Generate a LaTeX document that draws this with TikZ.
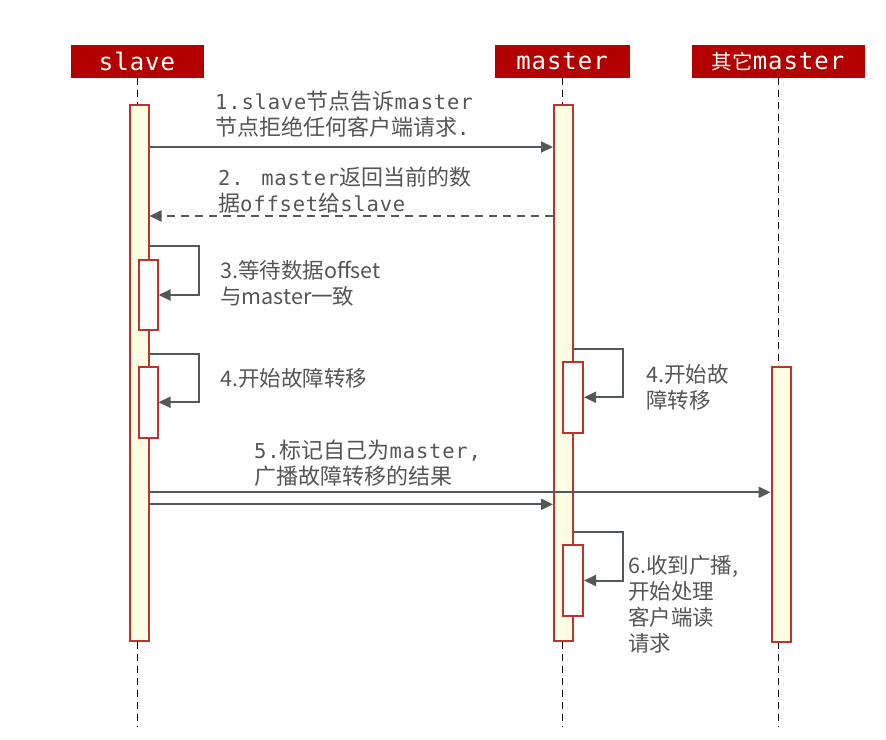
\documentclass[tikz,border=0pt]{standalone}
\usepackage{fontspec}
\usetikzlibrary{arrows.meta,calc}
\newfontfamily\cjk{Noto Sans CJK SC}
\newfontfamily\monofont[LetterSpace=4]{DejaVu Sans Mono}
\definecolor{hdr}{HTML}{B30000}
\definecolor{actred}{HTML}{C0322C}
\definecolor{actfill}{HTML}{FFFFE3}
\definecolor{arr}{HTML}{535959}
\definecolor{txt}{HTML}{555555}
\newcommand{\Mo}[1]{{\fontsize{20.5}{25.5}\selectfont\monofont #1}}
\newcommand{\Cj}[1]{{\fontsize{22}{25.5}\selectfont\cjk #1}}
\newcommand{\Hm}[1]{{\fontsize{24}{25}\selectfont\monofont #1}}
\newcommand{\Hc}[1]{{\fontsize{20.5}{25}\selectfont\cjk #1}}
\tikzset{
  hdrbox/.style={fill=hdr, draw=none, text=white, minimum height=33pt, inner sep=0pt},
  life/.style={draw=black, line width=1pt, dash pattern=on 7pt off 5pt},
  actbox/.style={draw=actred, fill=actfill, line width=2pt, anchor=north west, inner sep=0pt, minimum width=19pt},
  subact/.style={draw=actred, fill=white, line width=2pt, anchor=north west, inner sep=0pt, minimum width=19pt},
  msg/.style={draw=arr, line width=2pt, -{Triangle[length=12pt,width=11pt]}},
  dmsg/.style={msg, dash pattern=on 8pt off 6pt},
  monolbl/.style={text=txt, align=left, anchor=north west, inner sep=0pt, font=\fontsize{20.5}{25.5}\selectfont},
  sanslbl/.style={text=txt, align=left, anchor=north west, inner sep=0pt, font=\fontsize{21.5}{26}\selectfont\cjk},
}
\begin{document}
\begin{tikzpicture}[x=1pt,y=-1pt]
\useasboundingbox (0,0) rectangle (886,739);
% headers
\node[hdrbox, minimum width=133pt] (hs) at (137,61.3) {\Hm{slave}};
\node[hdrbox, minimum width=135pt] (hm) at (562,61.3) {\Hm{master}};
\node[hdrbox, minimum width=173pt] (ho) at (778,61.3) {\Hc{其它}\Hm{master}};
% lifeline ends
\coordinate (se) at (137,727);
\coordinate (me) at (562,727);
\coordinate (oe) at (778,727);
\draw[life] (hs.south) -- (se);
\draw[life] (hm.south) -- (me);
\draw[life] (ho.south) -- (oe);
% activations
\node[actbox, minimum height=536pt] (sA) at (128.5,104) {};
\node[actbox, minimum height=536pt] (mA) at (553,104) {};
\node[actbox, minimum height=275pt] (oA) at (770.5,366) {};
\node[subact, minimum height=70pt] (s1) at (137.5,259) {};
\node[subact, minimum height=70.5pt] (s2) at (137.5,366) {};
\node[subact, minimum width=20pt, minimum height=70.5pt] (m1) at (562,361) {};
\node[subact, minimum width=20pt, minimum height=71pt] (m2) at (562,544) {};
% messages
\draw[msg] ($(sA.north east)+(0,43)$) -- ($(mA.north west)+(0,43)$);
\draw[dmsg] ($(mA.north west)+(0,112)$) -- ($(sA.north east)+(0,112)$);
\draw[msg] ($(sA.north east)+(0,141.7)$) -- ++(49,0) |- (s1.east);
\draw[msg] ($(sA.north east)+(0,250)$) -- ++(49,0) |- (s2.east);
\draw[msg] ($(mA.north east)+(0,245.3)$) -- ++(49,0) |- (m1.east);
\draw[msg] ($(sA.north east)+(0,388.3)$) -- ($(oA.north west)+(0,126.3)$);
\draw[msg] ($(sA.north east)+(0,400.3)$) -- ($(mA.north west)+(0,400.3)$);
\draw[msg] ($(mA.north east)+(0,428)$) -- ++(49,0) |- (m2.east);
% labels
\node[monolbl] (l1) at (215,91) {\Mo{1.slave}\Cj{节点告诉}\Mo{master}\\\Cj{节点拒绝任何客户端请求}\Mo{.}};
\node[monolbl] (l2) at (218,167) {\Mo{2. master}\Cj{返回当前的数}\\\Cj{据}\Mo{offset}\Cj{给}\Mo{slave}};
\node[sanslbl] (l3) at (220,260) {3.等待数据offset\\与master一致};
\node[sanslbl] (l4) at (220,368) {4.开始故障转移};
\node[sanslbl] (l4m) at (646,364) {4.开始故\\障转移};
\node[monolbl] (l5) at (254,440) {\Mo{5.}\Cj{标记自己为}\Mo{master,}\\\Cj{广播故障转移的结果}};
\node[sanslbl] (l6) at (628,555) {6.收到广播,\\开始处理\\客户端读\\请求};
\end{tikzpicture}
\end{document}
